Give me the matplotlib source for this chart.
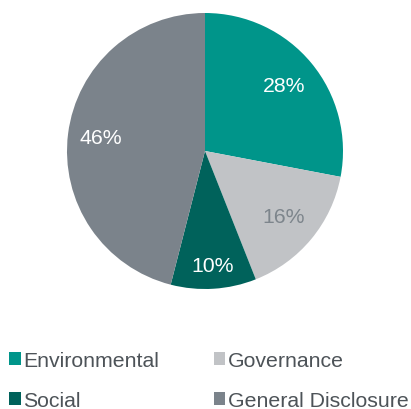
import numpy as np
import matplotlib
matplotlib.use("Agg")
import matplotlib.pyplot as plt
from matplotlib.patches import Patch

# Share of disclosures by category
categories = ["Environmental", "Governance", "Social", "General Disclosure"]
shares = [28, 16, 10, 46]
colors = ["#00958a", "#c1c3c6", "#00625b", "#7b838b"]
label_colors = ["white", "#7d858c", "white", "white"]
label_radius = [0.74, 0.74, 0.83, 0.76]

plt.rcParams["font.family"] = ["Liberation Sans", "DejaVu Sans"]

W, H = 411, 410
fig = plt.figure(figsize=(W / 100, H / 100), dpi=100)

cx, cy, r = 205, 152, 138
ax = fig.add_axes([(cx - r) / W, (H - cy - r) / H, 2 * r / W, 2 * r / H])
wedges, _ = ax.pie(shares, colors=colors, startangle=90, counterclock=False,
                   radius=1.0, wedgeprops=dict(linewidth=0))
ax.set_xlim(-1, 1)
ax.set_ylim(-1, 1)
ax.set_aspect("equal")
ax.axis("off")

for w, s, c, d in zip(wedges, shares, label_colors, label_radius):
    ang = np.deg2rad((w.theta1 + w.theta2) / 2)
    ax.text(d * np.cos(ang), d * np.sin(ang), f"{s}%", color=c,
            fontsize=15.3, ha="center", va="center")

# Legend: two rows, two columns (filled column-wise)
order = [0, 2, 1, 3]
handles = [Patch(facecolor=colors[i], edgecolor="none") for i in order]
labels = [categories[i] for i in order]
leg = fig.legend(handles, labels, ncol=2, loc="upper left",
                 bbox_to_anchor=(9 / W, 1 - 352 / H), frameon=False,
                 fontsize=15.3, handlelength=0.56, handleheight=0.56,
                 handletextpad=0.12, columnspacing=2.55, labelspacing=1.0,
                 borderpad=0, borderaxespad=0)
for t in leg.get_texts():
    t.set_color("#4d5358")

fig.savefig("out.png", dpi=100)
